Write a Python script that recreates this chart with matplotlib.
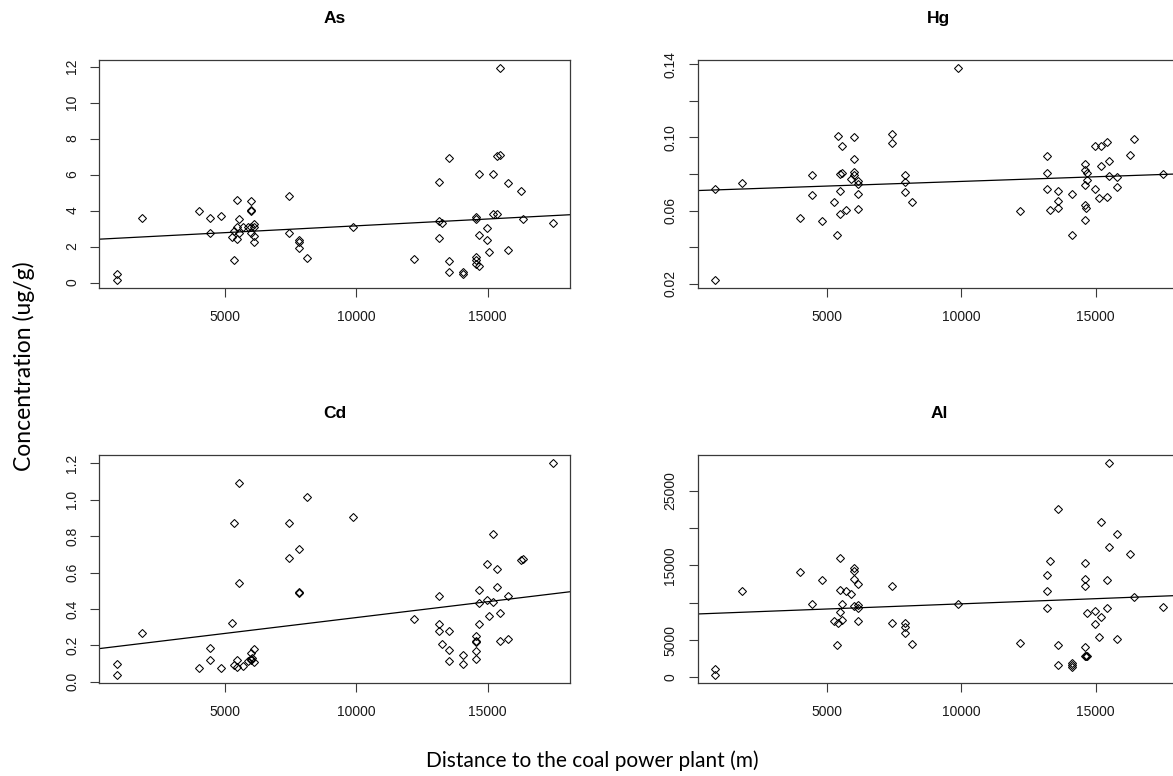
import matplotlib
matplotlib.use("Agg")
import matplotlib.pyplot as plt

# ---------------- data ----------------
as_x = [858, 858, 1810, 3984, 4403, 4403, 4822, 5241, 5318, 5343, 5445, 5445, 5445,
        5534, 5534, 5661, 5851, 5978, 5978, 5978, 5978, 5978, 6105, 6105, 6105, 6105,
        7414, 7414, 7821, 7821, 7821, 8113, 9879, 12179, 13157, 13157, 13259, 13157,
        13538, 13538, 13538, 14047, 14047, 14555, 14555, 14555, 14555, 14555, 14682,
        14682, 14682, 14974, 14974, 15063, 15190, 15190, 15355, 15355, 15482, 15482,
        15787, 15787, 16270, 16359, 17490]
as_y = [0.46, 0.15, 3.59, 3.96, 3.59, 2.76, 3.72, 2.52, 1.27, 2.87, 4.58, 2.41, 3.09,
        3.52, 2.76, 3.09, 3.09, 4.53, 3.98, 4.02, 2.76, 3.10, 3.24, 3.09, 2.58, 2.28,
        4.79, 2.76, 2.36, 2.26, 1.90, 1.34, 3.09, 1.29, 5.60, 3.41, 3.31, 2.47,
        6.90, 1.21, 0.57, 0.57, 0.46, 3.64, 3.53, 1.44, 1.25, 1.03, 6.02,
        2.65, 0.94, 3.02, 2.34, 1.71, 6.02, 3.79, 7.03, 3.83, 11.9, 7.09,
        5.52, 1.79, 5.10, 3.52, 3.33]

hg_x = [846, 846, 1850, 3983, 4448, 4448, 4824, 5276, 5364, 5402, 5477, 5477, 5477,
        5540, 5540, 5703, 5904, 5992, 5992, 5992, 5992, 6155, 6155, 6155, 6155,
        7410, 7410, 7887, 7887, 7887, 8176, 9883, 12179, 13183, 13183, 13183, 13308,
        13597, 13597, 13597, 14099, 14099, 14601, 14601, 14601, 14601, 14640, 14601,
        14689, 14689, 14977, 14977, 15103, 15190, 15190, 15404, 15404, 15479, 15479,
        15780, 15780, 16270, 16408, 17488]
hg_y = [0.0720, 0.0222, 0.0749, 0.0560, 0.0793, 0.0688, 0.0542, 0.0646, 0.0467, 0.1008,
        0.0800, 0.0706, 0.0583, 0.0952, 0.0805, 0.0601, 0.0775, 0.1001, 0.0885, 0.0813,
        0.0795, 0.0764, 0.0746, 0.0693, 0.0608, 0.1021, 0.0972, 0.0793, 0.0755, 0.0701,
        0.0645, 0.1377, 0.0596, 0.0898, 0.0804, 0.0720, 0.0601, 0.0708, 0.0652, 0.0616,
        0.0693, 0.0467, 0.0854, 0.0824, 0.0742, 0.0632, 0.0616, 0.0547, 0.0804, 0.0769,
        0.0952, 0.0720, 0.0670, 0.0952, 0.0842, 0.0977, 0.0677, 0.0872, 0.0787, 0.0782,
        0.0731, 0.0903, 0.0990, 0.0798]

cd_x = [858, 858, 1810, 3984, 4403, 4403, 4822, 5241, 5318, 5343, 5445, 5445, 5534,
        5534, 5661, 5851, 5978, 5978, 5978, 6020, 6105, 6105, 7414, 7414, 7821, 7821,
        7821, 8113, 9879, 12179, 13157, 13157, 13157, 13259, 13538, 13538, 13538,
        14047, 14047, 14555, 14555, 14555, 14555, 14555, 14682, 14682, 14682, 14974,
        14974, 15063, 15190, 15190, 15355, 15355, 15482, 15482, 15787, 15787, 16270,
        16359, 17490]
cd_y = [0.100, 0.038, 0.268, 0.076, 0.186, 0.118, 0.076, 0.322, 0.093, 0.872, 0.122,
        0.080, 1.091, 0.544, 0.087, 0.113, 0.158, 0.126, 0.122, 0.128, 0.180, 0.107,
        0.874, 0.681, 0.732, 0.493, 0.490, 1.016, 0.903, 0.346, 0.472, 0.319, 0.279,
        0.208, 0.279, 0.175, 0.113, 0.149, 0.100, 0.251, 0.224, 0.218, 0.169, 0.126,
        0.503, 0.435, 0.317, 0.645, 0.448, 0.361, 0.810, 0.439, 0.619, 0.521, 0.379,
        0.224, 0.472, 0.235, 0.668, 0.676, 1.200]

al_x = [846, 846, 1850, 3983, 4448, 4824, 5276, 5402, 5364, 5477, 5477, 5477, 5540,
        5540, 5703, 5904, 5992, 5992, 5992, 5992, 6155, 6155, 6155, 6155, 7410, 7410,
        7887, 7887, 7887, 8176, 9883, 12179, 13308, 13183, 13183, 13183, 13597, 13597,
        13597, 14099, 14099, 14099, 14601, 14601, 14601, 14601, 14601, 14640, 14689,
        14689, 14977, 14977, 15103, 15190, 15190, 15404, 15404, 15479, 15479, 15780,
        15780, 16270, 16408, 17488]
al_y = [1195, 354, 11505, 14071, 9868, 13010, 7567, 7301, 4292, 16019, 11682, 8806,
        9868, 7744, 11505, 11195, 14691, 14293, 13142, 9602, 12567, 9691, 9293, 7567,
        12257, 7301, 7301, 6726, 5974, 4469, 9868, 4602, 15576, 13762, 11505, 9248,
        22479, 4292, 1726, 1991, 1681, 1372, 15266, 13186, 12257, 4115, 2920, 2920,
        8673, 2920, 8938, 7168, 5354, 20842, 8054, 13054, 9248, 28630, 17390, 19205,
        5177, 16461, 10753, 9425]

# fitted regression lines (intercept, slope)
as_fit = (2.396, 7.57e-5)
hg_fit = (0.0709, 5.08e-7)
cd_fit = (0.1789, 1.741e-5)
al_fit = (8471.0, 0.1381)

titles = ["As", "Hg", "Cd", "Al"]
x_ticks = [5000, 10000, 15000]
as_ticks = [0, 2, 4, 6, 8, 10, 12]
as_labels = ["0", "2", "4", "6", "8", "10", "12"]
hg_ticks = [0.02, 0.04, 0.06, 0.08, 0.10, 0.12, 0.14]
hg_labels = ["0.02", "", "0.06", "", "0.10", "", "0.14"]
cd_ticks = [0.0, 0.2, 0.4, 0.6, 0.8, 1.0, 1.2]
cd_labels = ["0.0", "0.2", "0.4", "0.6", "0.8", "1.0", "1.2"]
al_ticks = [0, 5000, 10000, 15000, 20000, 25000]
al_labels = ["0", "5000", "", "15000", "", "25000"]

xlabel = "Distance to the coal power plant (m)"
ylabel = "Concentration (ug/g)"

# ---------------- figure ----------------
W, H = 1173, 776
fig = plt.figure(figsize=(W / 100, H / 100), dpi=100)
fig.patch.set_facecolor("white")

spine_col = "#3a3a3a"
text_col = "#1a1a1a"


def add_panel(left, top, width, height):
    return fig.add_axes([left / W, 1 - (top + height) / H, width / W, height / H])


ph = 228.3
positions = [(99.3, 60.0, 471.0), (697.5, 60.0, 483.0),
             (99.3, 455.0, 471.0), (697.5, 455.0, 483.0)]
panel_data = [
    (as_x, as_y, as_fit, as_ticks, as_labels),
    (hg_x, hg_y, hg_fit, hg_ticks, hg_labels),
    (cd_x, cd_y, cd_fit, cd_ticks, cd_labels),
    (al_x, al_y, al_fit, al_ticks, al_labels),
]

for (l, t, pw), title, (xs, ys, fit, yt, yl) in zip(positions, titles, panel_data):
    ax = add_panel(l, t, pw, ph)
    ax.plot(xs, ys, linestyle="none", marker="D", markersize=3.6,
            markerfacecolor="none", markeredgecolor="black", markeredgewidth=0.75)
    xlo, xhi = min(xs), max(xs)
    ylo, yhi = min(ys), max(ys)
    dx, dy = 0.04 * (xhi - xlo), 0.04 * (yhi - ylo)
    ax.set_xlim(xlo - dx, xhi + dx)
    ax.set_ylim(ylo - dy, yhi + dy)
    a, b = fit
    ax.axline((0, a), slope=b, color="black", linewidth=0.9)
    ax.set_xticks(x_ticks)
    ax.set_xticklabels([str(v) for v in x_ticks])
    ax.set_yticks(yt)
    ax.set_yticklabels(yl, rotation=90, va="center", ha="right")
    ax.tick_params(direction="out", length=6.5, width=0.8, color=spine_col,
                   labelsize=10, labelcolor=text_col, pad=8)
    ax.tick_params(axis="x", pad=9)
    for s in ax.spines.values():
        s.set_color(spine_col)
        s.set_linewidth(0.9)
    ax.set_title(title, fontsize=12.5, fontweight="bold", family="Liberation Sans",
                 pad=26.5, color="black")
    for lab in ax.get_xticklabels() + ax.get_yticklabels():
        lab.set_family("Liberation Sans")

fig.text(592 / W, 1 - 761 / H, xlabel, ha="center", va="center",
         fontsize=15, family="Lato", color="black")
fig.text(24 / W, 1 - 366 / H, ylabel, ha="center", va="center", rotation=90,
         fontsize=16.5, family="Lato", color="black")

fig.savefig("out.png", dpi=100)
